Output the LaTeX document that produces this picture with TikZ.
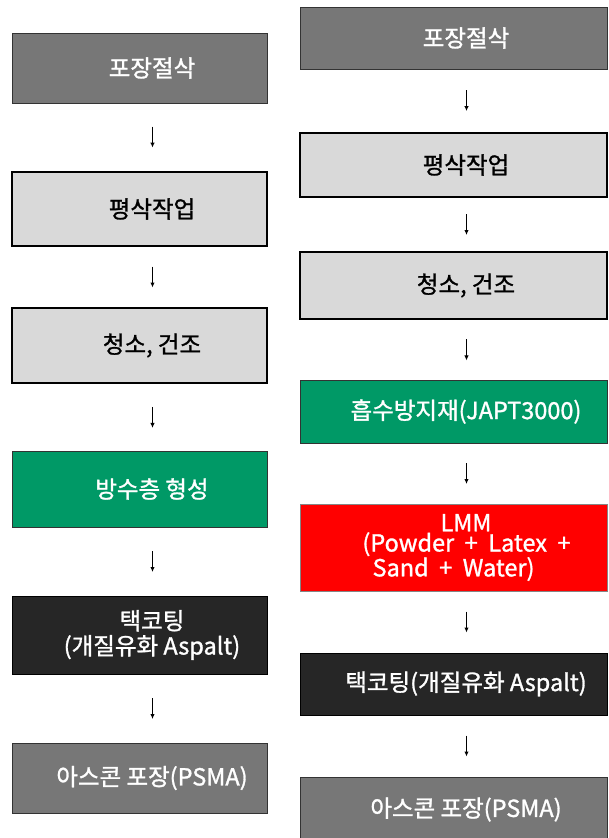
\documentclass[tikz,border=0pt]{standalone}
\usepackage{fontspec}
\setmainfont[FakeBold=1.2]{Noto Sans CJK KR}
\usetikzlibrary{calc,arrows.meta}
\definecolor{boxgray}{HTML}{777777}
\definecolor{edgegray}{HTML}{333333}
\definecolor{lightfill}{HTML}{D9D9D9}
\definecolor{boxgreen}{HTML}{009966}
\definecolor{boxred}{HTML}{FF0000}
\definecolor{boxdark}{HTML}{262626}
\newcommand{\flowarrow}[2]{\draw[arr] ($(#1.south)!0.5!(#2.north)+(13,-10.5)$) -- ($(#1.south)!0.5!(#2.north)+(13,10.5)$);}
\begin{document}
\begin{tikzpicture}[x=1pt,y=-1pt,
  box/.style={rectangle, draw, inner sep=0pt, font=\fontsize{23.5}{25}\selectfont},
  graybox/.style={box, fill=boxgray, draw=edgegray, line width=0.8pt, text=white},
  lightbox/.style={box, fill=lightfill, draw=black, line width=2.5pt, text=black},
  greenbox/.style={box, fill=boxgreen, draw=edgegray, line width=0.8pt, text=white},
  redbox/.style={box, fill=boxred, draw=edgegray!60, line width=0.8pt, text=white},
  darkbox/.style={box, fill=boxdark, draw=black, line width=0.8pt, text=white},
  leftw/.style={minimum width=255pt},
  rightw/.style={minimum width=307pt},
  arr/.style={-{Latex[length=5pt,width=4.5pt]}, line width=1.1pt, black}]
\clip (0,0) rectangle (608,838);
\fill[white] (0,0) rectangle (608,838);
% left column
\node[graybox, leftw, minimum height=70pt] (L1) at (139.5,68) {\hspace*{25pt}포장절삭};
\node[lightbox, leftw, minimum height=74pt] (L2) at (139.5,209) {\hspace*{25pt}평삭작업};
\node[lightbox, leftw, minimum height=75pt] (L3) at (139.5,345.5) {\hspace*{25pt}청소, 건조};
\node[greenbox, leftw, minimum height=76pt] (L4) at (139.5,489) {\hspace*{25pt}방수층 형성};
\node[darkbox, leftw, minimum height=78pt, align=center] (L5) at (139.5,635) {\hspace*{25pt}택코팅\\\hspace*{25pt}(개질유화 Aspalt)};
\node[graybox, leftw, minimum height=70pt] (L6) at (139.5,778) {\hspace*{25pt}아스콘 포장(PSMA)};
% right column
\node[graybox, rightw, minimum height=62pt] (R1) at (453.5,38) {\hspace*{25pt}포장절삭};
\node[lightbox, rightw, minimum height=64pt] (R2) at (453.5,165) {\hspace*{25pt}평삭작업};
\node[lightbox, rightw, minimum height=67pt] (R3) at (453.5,285.5) {\hspace*{25pt}청소, 건조};
\node[greenbox, rightw, minimum height=63pt] (R4) at (453.5,411.5) {\hspace*{25pt}흡수방지재(JAPT3000)};
\node[redbox, rightw, minimum height=87pt, align=center, font=\fontsize{23.5}{17}\selectfont] (R5) at (453.5,547.5) {\hspace*{25pt}LMM\\\hspace*{26pt}(Powder \ + \ Latex \ +\\\mbox{Sand \ + \ Water)}};
\node[darkbox, rightw, minimum height=62pt] (R6) at (453.5,684) {\hspace*{25pt}택코팅(개질유화 Aspalt)};
\node[graybox, rightw, minimum height=65pt] (R7) at (453.5,809.5) {\hspace*{25pt}아스콘 포장(PSMA)};
% arrows
\flowarrow{L1}{L2}
\flowarrow{L2}{L3}
\flowarrow{L3}{L4}
\flowarrow{L4}{L5}
\flowarrow{L5}{L6}
\flowarrow{R1}{R2}
\flowarrow{R2}{R3}
\flowarrow{R3}{R4}
\flowarrow{R4}{R5}
\flowarrow{R5}{R6}
\flowarrow{R6}{R7}
\end{tikzpicture}
\end{document}
